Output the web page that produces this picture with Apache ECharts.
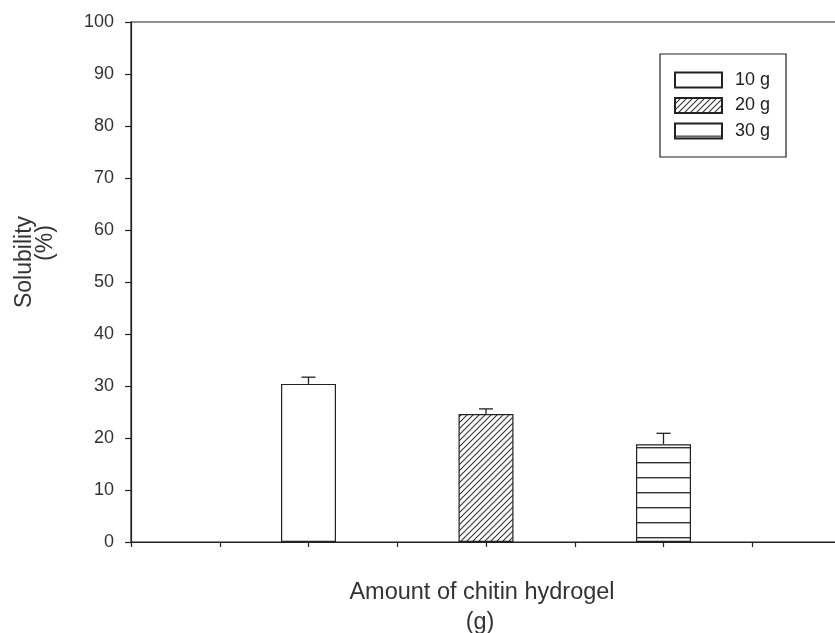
<!DOCTYPE html>
<html>
<head>
<meta charset="utf-8">
<script src="https://cdn.jsdelivr.net/npm/echarts@6/dist/echarts.min.js"></script>
<style>
html,body{margin:0;padding:0;background:#fff;}
#chart{width:835px;height:633px;}
</style>
</head>
<body>
<div id="chart"></div>
<script>
// ---- data ----
const seriesNames = ['10 g', '20 g', '30 g'];
const positions = [2, 4, 6];          // x positions of the bars on the 0..8 axis
const means = [30.4, 24.6, 18.8];     // Solubility (%)
const errors = [1.3, 1.0, 2.1];       // upper error
const yTicks = [0, 10, 20, 30, 40, 50, 60, 70, 80, 90, 100];
const xTitle = ['Amount of chitin hydrogel', '(g)'];
const yTitle = ['Solubility', '(%)'];

// ---- patterns ----
function diagPattern() {
  const c = document.createElement('canvas');
  c.width = 6; c.height = 6;
  const g = c.getContext('2d');
  g.fillStyle = '#fff'; g.fillRect(0, 0, 6, 6);
  g.strokeStyle = '#333'; g.lineWidth = 1.1;
  g.beginPath();
  g.moveTo(-1, 7); g.lineTo(7, -1);
  g.moveTo(-1, 1); g.lineTo(1, -1);
  g.moveTo(5, 7); g.lineTo(7, 5);
  g.stroke();
  return c;
}
function horizPattern() {
  const c = document.createElement('canvas');
  c.width = 10; c.height = 15;
  const g = c.getContext('2d');
  g.fillStyle = '#fff'; g.fillRect(0, 0, 10, 15);
  g.fillStyle = '#333'; g.fillRect(0, 12, 10, 1.4);
  return c;
}
const fills = ['#ffffff',
  { image: diagPattern(), repeat: 'repeat' },
  { image: horizPattern(), repeat: 'repeat' }];

const font = '"Liberation Sans", Arial, Helvetica, sans-serif';
const chart = echarts.init(document.getElementById('chart'));

const barSeries = seriesNames.map((name, i) => ({
  name: name,
  type: 'bar',
  barWidth: 55,
  barGap: '-100%',
  data: [[positions[i], means[i]]],
  itemStyle: { color: fills[i], borderColor: '#222', borderWidth: 1.2 },
  emphasis: { disabled: true },
  animation: false
}));

const errSeries = {
  type: 'custom',
  z: 10,
  silent: true,
  animation: false,
  data: positions.map((p, i) => [p, means[i], errors[i]]),
  renderItem: function (params, api) {
    const x = api.value(0), y = api.value(1), e = api.value(2);
    const p0 = api.coord([x, y]);
    const p1 = api.coord([x, y + e]);
    const st = { stroke: '#222', lineWidth: 1.3 };
    return {
      type: 'group',
      children: [
        { type: 'line', shape: { x1: p0[0], y1: p0[1], x2: p1[0], y2: p1[1] }, style: st },
        { type: 'line', shape: { x1: p1[0] - 7, y1: p1[1], x2: p1[0] + 7, y2: p1[1] }, style: st }
      ]
    };
  }
};

chart.setOption({
  backgroundColor: '#fff',
  animation: false,
  textStyle: { fontFamily: font },
  grid: {
    left: 131, top: 22, width: 710, height: 520,
    outerBoundsMode: 'none', containLabel: false,
    show: true, borderColor: '#222', borderWidth: 1.2, backgroundColor: 'transparent'
  },
  legend: {
    data: seriesNames,
    orient: 'vertical',
    left: 660, top: 54,
    padding: [17, 16, 17, 14],
    itemGap: 7.5,
    itemWidth: 47, itemHeight: 15,
    icon: 'rect',
    borderColor: '#222', borderWidth: 1.2,
    textStyle: { fontFamily: font, fontSize: 18, color: '#222', padding: [0, 0, 0, 8] },
    selectedMode: false
  },
  xAxis: {
    type: 'value', min: 0, max: 8, interval: 1,
    axisLine: { show: true, lineStyle: { color: '#222', width: 1.2 } },
    axisTick: { show: true, length: 5, lineStyle: { color: '#222', width: 1.2 } },
    axisLabel: { show: false },
    splitLine: { show: false }
  },
  yAxis: {
    type: 'value', min: yTicks[0], max: yTicks[yTicks.length - 1], interval: 10,
    axisLine: { show: true, lineStyle: { color: '#222', width: 1.2 } },
    axisTick: { show: true, length: 6, lineStyle: { color: '#222', width: 1.2 } },
    axisLabel: { fontFamily: font, fontSize: 18, color: '#333', margin: 17 },
    splitLine: { show: false }
  },
  graphic: [
    { type: 'text', x: 25, y: 262, rotation: Math.PI / 2,
      style: { text: yTitle[0], font: '23px ' + font, fill: '#333', align: 'center', verticalAlign: 'middle' } },
    { type: 'text', x: 46, y: 243, rotation: Math.PI / 2,
      style: { text: yTitle[1], font: '23px ' + font, fill: '#333', align: 'center', verticalAlign: 'middle' } },
    { type: 'text', x: 482, y: 593,
      style: { text: xTitle[0], font: '23.5px ' + font, fill: '#333', align: 'center', verticalAlign: 'middle' } },
    { type: 'text', x: 480, y: 623,
      style: { text: xTitle[1], font: '23.5px ' + font, fill: '#333', align: 'center', verticalAlign: 'middle' } }
  ],
  series: barSeries.concat([errSeries])
});
</script>
</body>
</html>
